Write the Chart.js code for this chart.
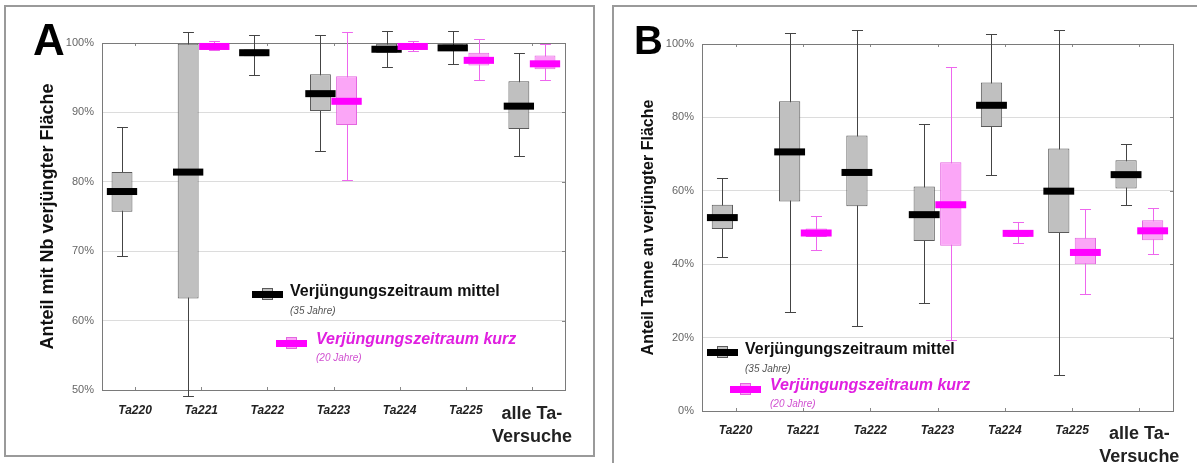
<!DOCTYPE html>
<html>
<head>
<meta charset="utf-8">
<script src="https://cdn.jsdelivr.net/npm/chart.js@4"></script>
<style>
  body { margin: 0; background: #fff; width: 1197px; height: 463px; overflow: hidden; position: relative; }
  .frame { position: absolute; border: 2px solid #9a9a9a; box-sizing: border-box; }
  .wrap { position: absolute; top: 0; height: 463px; }
</style>
</head>
<body>
<div class="frame" style="left:4px;top:5px;width:591px;height:452px;"></div>
<div class="frame" style="left:612px;top:5px;width:600px;height:470px;"></div>
<div class="wrap" style="left:0;width:600px;"><canvas id="chartA"></canvas></div>
<div class="wrap" style="left:600px;width:597px;"><canvas id="chartB"></canvas></div>
<script>
const categories = ['Ta220', 'Ta221', 'Ta222', 'Ta223', 'Ta224', 'Ta225', ['alle Ta-', 'Versuche']];

// Panel A: Anteil mit Nb verjüngter Fläche (%)
const aMittelMin = [69.3, 49.2, 95.4, 84.5, 96.6, 97.0, 83.7];
const aMittelQ1  = [75.7, 63.2, 98.1, 90.2, 98.6, 98.85, 87.6];
const aMittelMed = [78.6, 81.4, 98.6, 92.7, 99.1, 99.3, 90.9];
const aMittelQ3  = [81.4, 99.9, 99.05, 95.5, 99.9, 99.8, 94.5];
const aMittelMax = [87.9, 101.6, 101.1, 101.1, 101.7, 101.7, 98.6];
const aKurzMin = [null, 99.0, null, 80.3, 98.8, 94.7, 94.7];
const aKurzQ1  = [null, 99.1, null, 88.2, 99.05, 96.75, 96.2];
const aKurzMed = [null, 99.5, null, 91.6, 99.5, 97.5, 97.0];
const aKurzQ3  = [null, 99.95, null, 95.2, 100.0, 98.6, 98.2];
const aKurzMax = [null, 100.3, null, 101.6, 100.3, 100.6, 99.8];

// Panel B: Anteil Tanne an verjüngter Fläche (%)
const bMittelMin = [42.0, 26.9, 23.2, 29.5, 64.2, 9.8, 56.1];
const bMittelQ1  = [49.6, 57.1, 55.8, 46.3, 77.4, 48.5, 60.6];
const bMittelMed = [52.7, 70.6, 65.0, 53.5, 83.3, 59.9, 64.4];
const bMittelQ3  = [56.2, 84.4, 75.1, 61.2, 89.5, 71.5, 68.3];
const bMittelMax = [63.6, 103.0, 103.9, 78.1, 102.8, 103.9, 72.8];
const bKurzMin = [null, 44.0, null, 19.3, 45.8, 32.0, 42.9];
const bKurzQ1  = [null, 47.4, null, 45.0, 47.4, 40.0, 46.5];
const bKurzMed = [null, 48.5, null, 56.2, 48.4, 43.2, 49.1];
const bKurzQ3  = [null, 49.7, null, 67.8, 49.3, 47.2, 52.0];
const bKurzMax = [null, 53.1, null, 93.7, 51.5, 55.0, 55.4];

const FONT = "'Liberation Sans', Arial, sans-serif";
const GREY = { fill: '#c0c0c0', border: '#5a5a5a', whisker: '#444', median: '#000' };
const PINK = { fill: '#fba6f7', border: '#e466e0', whisker: '#ee66ee', median: '#ff00ff' };

function boxes(q1, q3) {
  return q1.map((v, i) => v == null ? null : [v, q3[i]]);
}

function makeDataset(label, col, min, q1, med, q3, max) {
  return {
    label: label,
    data: boxes(q1, q3),
    backgroundColor: col.fill,
    borderColor: col.border,
    borderWidth: 1,
    borderSkipped: false,
    whiskerMin: min, whiskerMax: max, median: med,
    whiskerColor: col.whisker, medianColor: col.median
  };
}

function legendIcon(ctx, x, y, col) {
  // small box above, thick median bar
  ctx.fillStyle = col.fill;
  ctx.strokeStyle = col.border;
  ctx.lineWidth = 1;
  ctx.fillRect(x + 10, y - 6, 11, 12);
  ctx.strokeRect(x + 10.5, y - 5.5, 10, 11);
  ctx.fillStyle = col.median;
  ctx.fillRect(x, y - 3, 31, 7);
}

const boxPlugin = {
  id: 'boxWhisker',
  beforeDatasetsDraw(chart) {
    const ctx = chart.ctx, ca = chart.chartArea, ys = chart.scales.y, xs = chart.scales.x;
    ctx.save();
    // small tick marks on the frame
    ctx.strokeStyle = '#888';
    ctx.lineWidth = 1;
    xs.ticks.forEach((t, i) => {
      const px = Math.round(xs.getPixelForTick(i)) + 0.5;
      ctx.beginPath();
      ctx.moveTo(px, ca.top); ctx.lineTo(px, ca.top + 3);
      ctx.moveTo(px, ca.bottom); ctx.lineTo(px, ca.bottom - 3);
      ctx.stroke();
    });
    ys.ticks.forEach((t, i) => {
      const py = Math.round(ys.getPixelForTick(i)) + 0.5;
      ctx.beginPath();
      ctx.moveTo(ca.right, py); ctx.lineTo(ca.right - 3, py);
      ctx.stroke();
    });
    // frame
    ctx.strokeStyle = '#7a7a7a';
    ctx.strokeRect(Math.round(ca.left) + 0.5, Math.round(ca.top) + 0.5,
      Math.round(ca.right - ca.left), Math.round(ca.bottom - ca.top));
    // whiskers
    chart.data.datasets.forEach((ds, di) => {
      const meta = chart.getDatasetMeta(di);
      meta.data.forEach((bar, i) => {
        if (ds.whiskerMin[i] == null) return;
        const p = bar.getProps(['x', 'width'], true);
        const x = Math.round(p.x) + 0.5;
        const cap = p.width * 0.26;
        const y1 = Math.round(ys.getPixelForValue(ds.whiskerMin[i])) + 0.5;
        const y2 = Math.round(ys.getPixelForValue(ds.whiskerMax[i])) + 0.5;
        ctx.strokeStyle = ds.whiskerColor;
        ctx.beginPath();
        ctx.moveTo(x, y1); ctx.lineTo(x, y2);
        ctx.moveTo(x - cap, y1); ctx.lineTo(x + cap, y1);
        ctx.moveTo(x - cap, y2); ctx.lineTo(x + cap, y2);
        ctx.stroke();
      });
    });
    ctx.restore();
  },
  afterDatasetsDraw(chart) {
    const ctx = chart.ctx, ys = chart.scales.y;
    ctx.save();
    chart.data.datasets.forEach((ds, di) => {
      const meta = chart.getDatasetMeta(di);
      meta.data.forEach((bar, i) => {
        if (ds.median[i] == null) return;
        const p = bar.getProps(['x', 'width'], true);
        const w = p.width * 1.45;
        const y = ys.getPixelForValue(ds.median[i]);
        ctx.fillStyle = ds.medianColor;
        ctx.fillRect(p.x - w / 2, y - 3.5, w, 7);
      });
    });
    ctx.restore();
  },
  afterDraw(chart, args, opts) {
    const ctx = chart.ctx;
    ctx.save();
    ctx.fillStyle = '#000';
    ctx.font = 'bold ' + opts.letterSize + 'px ' + FONT;
    ctx.textBaseline = 'alphabetic';
    ctx.fillText(opts.letter, opts.letterX, opts.letterY);

    const lg = opts.legend;
    legendIcon(ctx, lg.x1, lg.y1, GREY);
    ctx.textBaseline = 'middle';
    ctx.fillStyle = '#111';
    ctx.font = 'bold ' + lg.size + 'px ' + FONT;
    ctx.fillText('Verjüngungszeitraum mittel', lg.x1 + 38, lg.y1 - 2);
    ctx.fillStyle = '#555';
    ctx.font = 'italic 10px ' + FONT;
    ctx.fillText('(35 Jahre)', lg.x1 + 38, lg.y1 + 17);

    legendIcon(ctx, lg.x2, lg.y2, PINK);
    ctx.fillStyle = '#e020e0';
    ctx.font = 'italic bold ' + lg.size + 'px ' + FONT;
    ctx.fillText('Verjüngungszeitraum kurz', lg.x2 + 40, lg.y2 - 3);
    ctx.fillStyle = '#d050d0';
    ctx.font = 'italic 10px ' + FONT;
    ctx.fillText('(20 Jahre)', lg.x2 + 40, lg.y2 + 15);
    ctx.restore();
  }
};

function makeChart(id, cfg) {
  return new Chart(document.getElementById(id).getContext('2d'), {
    type: 'bar',
    data: {
      labels: categories,
      datasets: [
        makeDataset('Verjüngungszeitraum mittel', GREY, cfg.mMin, cfg.mQ1, cfg.mMed, cfg.mQ3, cfg.mMax),
        makeDataset('Verjüngungszeitraum kurz', PINK, cfg.kMin, cfg.kQ1, cfg.kMed, cfg.kQ3, cfg.kMax)
      ]
    },
    options: {
      responsive: true,
      maintainAspectRatio: false,
      animation: false,
      events: [],
      categoryPercentage: 0.79,
      barPercentage: 0.8,
      layout: { padding: { left: cfg.padLeft, top: cfg.padTop, right: cfg.padRight, bottom: 0 } },
      plugins: {
        legend: { display: false },
        tooltip: { enabled: false },
        boxWhisker: {
          letter: cfg.letter, letterX: cfg.letterX, letterY: cfg.letterY, letterSize: cfg.letterSize,
          legend: cfg.legend
        }
      },
      scales: {
        x: {
          grid: { display: false },
          border: { display: false },
          ticks: {
            padding: cfg.xPad,
            color: '#222',
            maxRotation: 0,
            autoSkip: false,
            font: (c) => c.index === 6
              ? { family: FONT, size: 18, weight: 'bold', style: 'normal', lineHeight: 1.25 }
              : { family: FONT, size: 12, weight: 'bold', style: 'italic' }
          },
          afterFit: (s) => { s.height = cfg.xHeight; }
        },
        y: {
          min: cfg.yMin,
          max: 100,
          grid: { color: '#dcdcdc', drawTicks: false },
          border: { display: false },
          ticks: {
            stepSize: cfg.step,
            padding: 8,
            color: '#666',
            font: { family: FONT, size: 11 },
            callback: (v) => v + '%'
          },
          title: {
            display: true,
            text: cfg.yTitle,
            color: '#111',
            padding: 0,
            font: { family: FONT, size: cfg.titleSize, weight: 'bold' }
          },
          afterFit: (s) => { s.width = cfg.yWidth; }
        }
      }
    },
    plugins: [boxPlugin]
  });
}

makeChart('chartA', {
  mMin: aMittelMin, mQ1: aMittelQ1, mMed: aMittelMed, mQ3: aMittelQ3, mMax: aMittelMax,
  kMin: aKurzMin, kQ1: aKurzQ1, kMed: aKurzMed, kQ3: aKurzQ3, kMax: aKurzMax,
  yMin: 50, step: 10, yTitle: 'Anteil mit Nb verjüngter Fläche', titleSize: 18,
  padLeft: 37, padTop: 43, padRight: 35, yWidth: 65, xHeight: 73, xPad: 5,
  letter: 'A', letterX: 33, letterY: 55, letterSize: 44,
  legend: { x1: 252, y1: 294, x2: 276, y2: 343, size: 16 }
});

makeChart('chartB', {
  mMin: bMittelMin, mQ1: bMittelQ1, mMed: bMittelMed, mQ3: bMittelQ3, mMax: bMittelMax,
  kMin: bKurzMin, kQ1: bKurzQ1, kMed: bKurzMed, kQ3: bKurzQ3, kMax: bKurzMax,
  yMin: 0, step: 20, yTitle: 'Anteil Tanne an verjüngter Fläche', titleSize: 16,
  padLeft: 39, padTop: 44, padRight: 24, yWidth: 63, xHeight: 52, xPad: 4,
  letter: 'B', letterX: 34, letterY: 54, letterSize: 40,
  legend: { x1: 107, y1: 352, x2: 130, y2: 389, size: 16 }
});
</script>
</body>
</html>
